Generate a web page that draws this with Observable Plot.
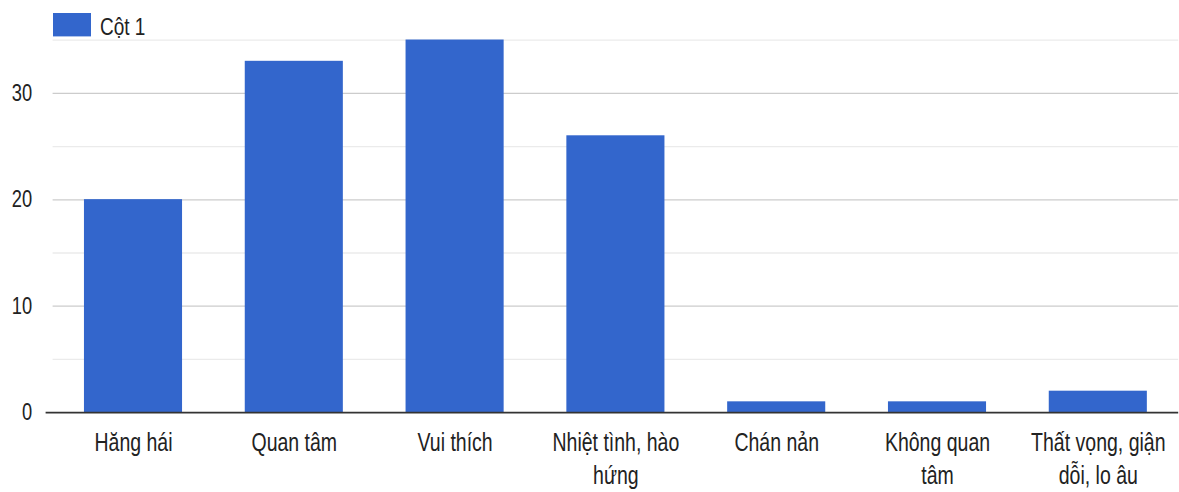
<!DOCTYPE html>
<html>
<head>
<meta charset="utf-8">
<script src="https://cdn.jsdelivr.net/npm/d3@7"></script>
<script src="https://cdn.jsdelivr.net/npm/@observablehq/plot@0.6"></script>
<style>
  html { overflow: hidden; }
  html, body { margin: 0; padding: 0; background: #fff; }
  body { height: 492px; }
  #wrap {
    width: 1179px;
    transform: scaleY(1.3);
    transform-origin: 0 0;
    font-family: "Liberation Sans", Arial, sans-serif;
    color: #222;
  }
  .legend { position: relative; height: 28px; }
  .legend .swatch { position: absolute; left: 53px; top: 9.5px; width: 38px; height: 18px; background: #3366cc; }
  .legend .label { position: absolute; left: 100px; top: 10.8px; font-size: 19px; line-height: 19px; }
  svg { display: block; }
  .xlab text { font-size: 19.5px; }
  .ylab text { font-size: 18.3px; }
</style>
</head>
<body>
<div id="wrap">
  <div class="legend"><div class="swatch"></div><div class="label">Cột 1</div></div>
  <div id="chart"></div>
</div>
<script>
// Survey answers: how pupils felt, one count per feeling
const categories = [
  "Hăng hái",
  "Quan tâm",
  "Vui thích",
  "Nhiệt tình, hào hứng",
  "Chán nản",
  "Không quan tâm",
  "Thất vọng, giận dỗi, lo âu"
];
const values = [20, 33, 35, 26, 1, 1, 2];

// Axis labels, wrapped as they appear under each bar
const tickLabels = [
  "Hăng hái",
  "Quan tâm",
  "Vui thích",
  "Nhiệt tình, hào\nhứng",
  "Chán nản",
  "Không quan\ntâm",
  "Thất vọng, giận\ndỗi, lo âu"
];
const majorTicks = [0, 10, 20, 30];
const minorTicks = [5, 15, 25, 35];

const rows = categories.map((c, i) => ({category: c, value: values[i]}));
const labelOf = new Map(categories.map((c, i) => [c, tickLabels[i]]));

const chart = Plot.plot({
  width: 1179,
  height: 351,
  marginTop: 2.4,
  marginBottom: 62.1,
  marginLeft: 52.6,
  marginRight: 0.8,
  style: {fontFamily: "'Liberation Sans', Arial, sans-serif", fontSize: "19px", color: "#222", background: "transparent"},
  x: {domain: categories, paddingInner: 0.39, paddingOuter: 0.195, round: false, label: null},
  y: {domain: [0, 35], label: null},
  marks: [
    Plot.ruleY(minorTicks, {stroke: "#ebebeb", strokeWidth: 1}),
    Plot.ruleY(majorTicks.filter(d => d !== 0), {stroke: "#cccccc", strokeWidth: 1}),
    Plot.barY(rows, {x: "category", y: "value", fill: "#3366cc"}),
    Plot.ruleY([0], {stroke: "#333", strokeWidth: 1.2, insetLeft: -7}),
    Plot.axisY({ticks: majorTicks, tickSize: 0, tickPadding: 21, label: null, className: "ylab"}),
    Plot.axisX({tickSize: 0, tickPadding: 11, lineHeight: 1.32, tickFormat: d => labelOf.get(d), label: null, className: "xlab"})
  ]
});
document.getElementById("chart").appendChild(chart);
</script>
</body>
</html>
